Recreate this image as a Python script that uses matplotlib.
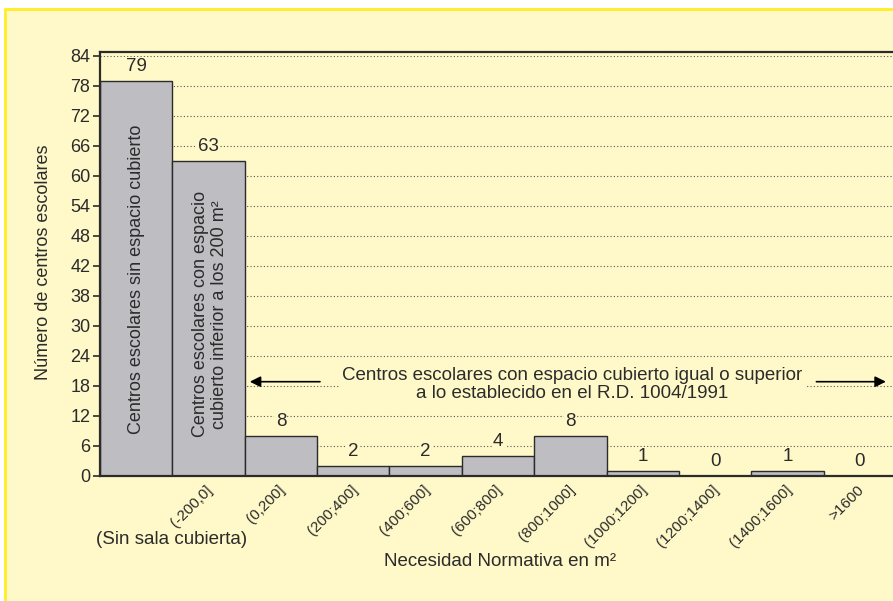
import matplotlib
matplotlib.use("Agg")
import matplotlib.pyplot as plt
from matplotlib.patches import Rectangle
from matplotlib.transforms import ScaledTranslation

plt.rcParams['font.family'] = ['Liberation Sans', 'DejaVu Sans']

# ---- data ----
categories = ["(Sin sala cubierta)", "(-200,0]", "(0,200]", "(200;400]", "(400;600]",
              "(600;800]", "(800;1000]", "(1000;1200]", "(1200;1400]", "(1400;1600]", ">1600"]
counts = [79, 63, 8, 2, 2, 4, 8, 1, 0, 1, 0]
ytick_values = [0, 6, 12, 18, 24, 30, 36, 42, 48, 54, 60, 66, 72, 78, 84]
ytick_labels = ["0", "6", "12", "18", "24", "30", "38", "42", "48", "54", "60", "66", "72", "78", "84"]
bar1_text = "Centros escolares sin espacio cubierto"
bar2_text = "Centros escolares con espacio\ncubierto inferior a los 200 m²"
note_text = "Centros escolares con espacio cubierto igual o superior\na lo establecido en el R.D. 1004/1991"

PANEL = "#FFF8C8"
BORDER = "#FFEE22"
BAR = "#BDBDC2"
DARK = "#2b2b2b"
FS = 13

W, H = 893, 601
fig = plt.figure(figsize=(W / 100, H / 100), dpi=100, facecolor="white")

# yellow panel (behind everything)
fig.patches.append(Rectangle((5 / W, -0.1), 1.2, (H - 9) / H + 0.1, transform=fig.transFigure,
                             facecolor=PANEL, edgecolor=BORDER, lw=2, zorder=-10))

YTOP = 84.8
ax = fig.add_axes([100 / W, (H - 475.7) / H, 796 / W, 420 * YTOP / 84 / H])
ax.set_facecolor(PANEL)
x = list(range(len(categories)))
ax.bar(x, counts, width=1.0, color=BAR, edgecolor=DARK, linewidth=1.0, zorder=2)
ax.set_xlim(-0.5, len(categories) - 0.5)
ax.set_ylim(0, YTOP)

ax.set_yticks(ytick_values)
ax.set_yticklabels(ytick_labels, fontsize=FS, color=DARK)
ax.tick_params(axis='y', length=5, width=1.2, color=DARK, pad=2)
ax.yaxis.grid(True, linestyle=(0, (1, 2)), color="#555555", linewidth=0.8, zorder=1)
ax.set_axisbelow(True)

ax.set_xticks(x)
ax.set_xticklabels([""] + categories[1:], rotation=45, ha='right', fontsize=11, color=DARK)
ax.tick_params(axis='x', length=0, pad=5)
for lbl in ax.get_xticklabels():
    lbl.set_transform(lbl.get_transform() + ScaledTranslation(5 / 72, 0, fig.dpi_scale_trans))

for s in ['left', 'bottom', 'top']:
    ax.spines[s].set_linewidth(1.6)
    ax.spines[s].set_color(DARK)
ax.spines['right'].set_visible(False)

for i, v in enumerate(counts):
    ax.annotate(str(v), (i, v), xytext=(0, 4), textcoords='offset points', ha='center',
                va='bottom', fontsize=13.5, color=DARK, zorder=4,
                bbox=dict(facecolor=PANEL, edgecolor='none', pad=1))

ax.text(0, 39.3, bar1_text, rotation=90, ha='center', va='center', fontsize=FS, color=DARK, zorder=4)
ax.text(1.02, 32.3, bar2_text, rotation=90, ha='center', va='center', fontsize=FS, color=DARK,
        multialignment='center', linespacing=1.2, zorder=4)

ax.text(6.02, 18.3, note_text, ha='center', va='center', fontsize=13.5, color=DARK,
        multialignment='center', linespacing=1.1, zorder=4,
        bbox=dict(facecolor=PANEL, edgecolor='none', pad=2))
arrow = dict(arrowstyle='-|>', color='black', lw=1.2, mutation_scale=16, shrinkA=0, shrinkB=0)
ax.annotate('', xy=(1.57, 18.8), xytext=(2.54, 18.8), arrowprops=arrow, zorder=4)
ax.annotate('', xy=(10.36, 18.8), xytext=(9.4, 18.8), arrowprops=arrow, zorder=4)

fig.text(44 / W, 1 - 262 / H, "Número de centros escolares", rotation=90, ha='center', va='center',
         fontsize=FS, color=DARK)
fig.text(500 / W, 1 - 561 / H, "Necesidad Normativa en m²", ha='center', va='center',
         fontsize=13.5, color=DARK)
fig.text(172 / W, 1 - 540 / H, categories[0], ha='center', va='center', fontsize=13.5, color=DARK)

fig.savefig("out.png", dpi=100)
